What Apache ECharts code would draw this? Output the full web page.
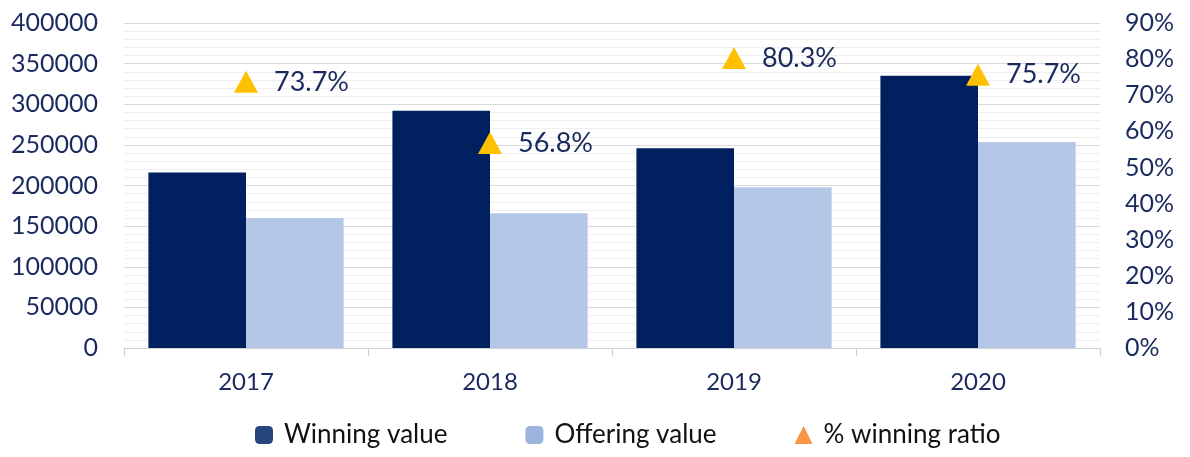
<!DOCTYPE html>
<html>
<head>
<meta charset="utf-8">
<script src="https://cdn.jsdelivr.net/npm/echarts@6/dist/echarts.min.js"></script>
<style>
  html, body { margin: 0; padding: 0; background: #fff; }
  #chart { width: 1190px; height: 457px; }
</style>
</head>
<body>
<div id="chart"></div>
<script>
const years = ['2017', '2018', '2019', '2020']
const winningValue = [216000, 292000, 246000, 335000]
const offeringValue = [160000, 166000, 198000, 253500]
const winningRatio = [73.7, 56.8, 80.3, 75.7]

const navy = '#1b2a5e'
const font = 'Lato'

const chart = echarts.init(document.getElementById('chart'))
chart.setOption({
  backgroundColor: '#fff',
  animation: false,
  textStyle: { fontFamily: font },
  grid: { left: 124, right: 90, top: 23, bottom: 109 },
  legend: {
    left: 250,
    bottom: 4,
    itemWidth: 18,
    itemHeight: 18,
    itemGap: 78,
    textStyle: { color: '#111', fontSize: 26, fontFamily: font, padding: [0, 0, 0, 6] },
    data: [
      { name: 'Winning value', icon: 'roundRect', itemStyle: { color: '#25457c' } },
      { name: 'Offering value', icon: 'roundRect', itemStyle: { color: '#9cb5de' } },
      { name: '% winning ratio', icon: 'triangle', itemStyle: { color: '#f79646' } },
    ],
  },
  xAxis: {
    type: 'category',
    data: years,
    axisLine: { lineStyle: { color: '#d0d0d0', width: 1 } },
    axisTick: { show: true, length: 8, lineStyle: { color: '#d0d0d0' } },
    axisLabel: { color: navy, fontSize: 24, margin: 22 },
  },
  yAxis: [
    {
      type: 'value',
      min: 0,
      max: 400000,
      interval: 50000,
      axisLabel: { color: navy, fontSize: 25, margin: 26, formatter: (v) => String(v) },
      splitLine: { lineStyle: { color: '#d9d9d9', width: 1 } },
      minorTick: { show: false, splitNumber: 5 },
      minorSplitLine: { show: true, lineStyle: { color: '#efefef', width: 1 } },
    },
    {
      type: 'value',
      min: 0,
      max: 90,
      interval: 10,
      axisLabel: { color: navy, fontSize: 25, margin: 25, formatter: '{value}%' },
      splitLine: { show: false },
    },
  ],
  series: [
    {
      name: 'Winning value',
      type: 'bar',
      data: winningValue,
      itemStyle: { color: '#002060' },
      barGap: '0%',
      barCategoryGap: '20%',
    },
    {
      name: 'Offering value',
      type: 'bar',
      data: offeringValue,
      itemStyle: { color: '#b4c7e7' },
    },
    {
      name: '% winning ratio',
      type: 'scatter',
      yAxisIndex: 1,
      data: winningRatio,
      symbol: 'triangle',
      symbolSize: [24, 22],
      itemStyle: { color: '#ffc000', opacity: 1 },
      label: {
        show: true,
        position: 'right',
        distance: 16,
        color: navy,
        opacity: 1,
        fontSize: 27,
        formatter: (p) => p.value.toFixed(1) + '%',
      },
    },
  ],
})
</script>
</body>
</html>
